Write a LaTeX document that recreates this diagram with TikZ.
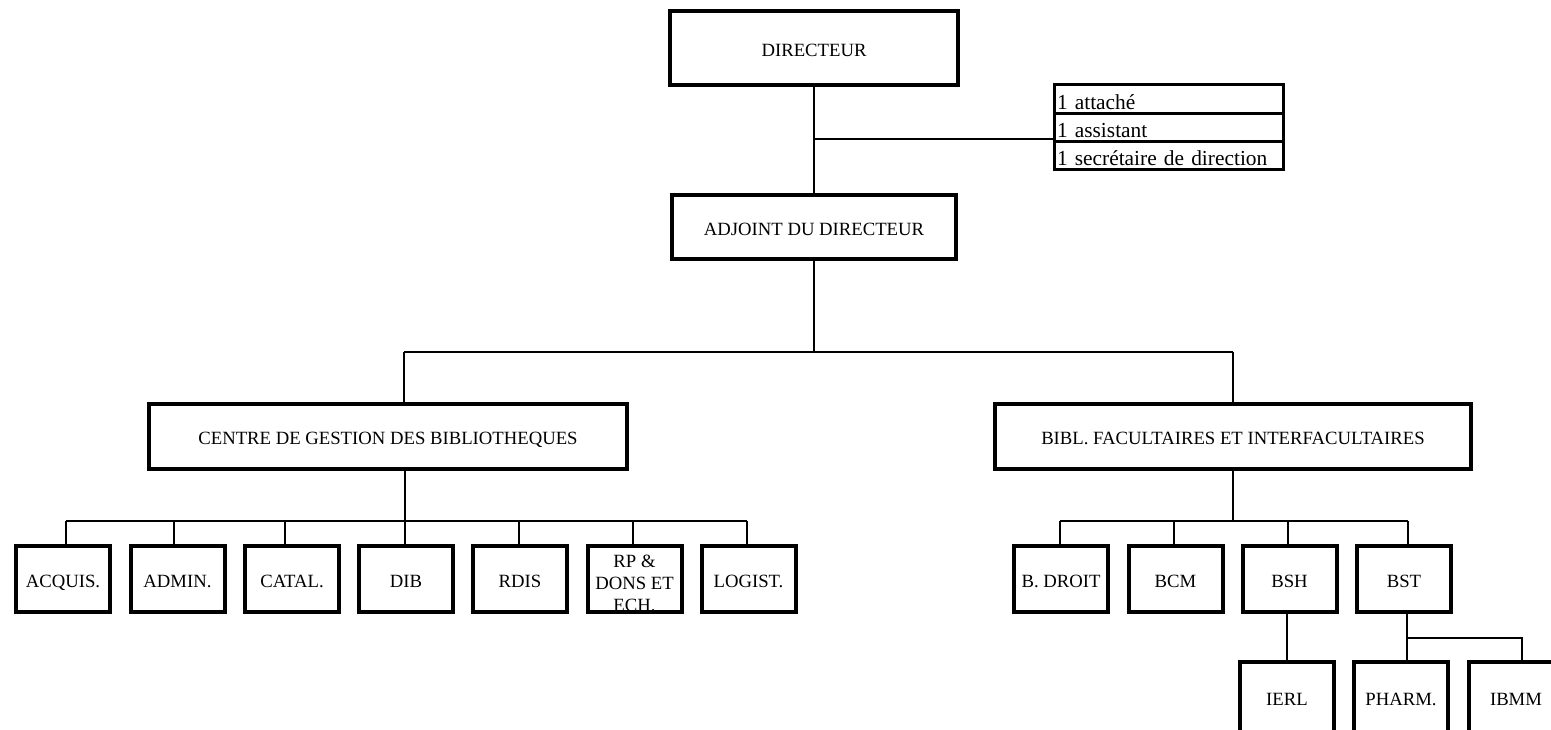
\documentclass[tikz,border=0pt]{standalone}
\usepackage{fontspec}
\setmainfont{Liberation Serif}
\begin{document}
\begin{tikzpicture}[x=0.5pt,y=-0.5pt,
  boxbase/.style={draw, line width=2pt, inner sep=0pt, minimum width=47pt, minimum height=33pt,
    font=\fontsize{9.35}{11}\selectfont},
  box/.style={boxbase, text height=8.2pt, text depth=0pt},
  lowbox/.style={box, minimum height=35pt},
  staffbox/.style={draw, line width=1.5pt, inner sep=0pt, minimum width=114.5pt, minimum height=14pt,
    text width=112pt, align=left, text height=10.8pt, text depth=0pt,
    font=\fontsize{10.7}{11}\selectfont},
  link/.style={line width=1pt},
  thinlink/.style={line width=0.65pt}]
\useasboundingbox (0,0) rectangle (1551,729);
\clip (0,0) rectangle (1551,729);

% main boxes
\node[box, minimum width=144pt, minimum height=37pt] (dir) at (814,48) {DIRECTEUR};
\node[box, minimum width=142pt, minimum height=32pt] (adj) at (814,227) {ADJOINT DU DIRECTEUR};
\node[box, minimum width=239pt, minimum height=32.5pt] (cgb) at (388,436.5) {CENTRE DE GESTION DES BIBLIOTHEQUES};
\node[box, minimum width=238pt, minimum height=32.5pt] (bfi) at (1233,436.5) {BIBL. FACULTAIRES ET INTERFACULTAIRES};

% staff
\node[staffbox, minimum height=14.5pt] (s1) at (1169,98.5) {1 attaché};
\node[staffbox] (s2) at (1169,127) {1 assistant};
\node[staffbox] (s3) at (1169,155) {1 secrétaire de direction};

% left services
\node[box] (acq) at (63,579) {ACQUIS.};
\node[box] (adm) at (177.5,579) {ADMIN.};
\node[box] (cat) at (292,579) {CATAL.};
\node[box] (dib) at (406,579) {DIB};
\node[box] (rdis) at (520,579) {RDIS};
\node[boxbase, text height=6pt, text depth=18pt] (rp) at (634.5,579)
  {\begin{tabular}[t]{@{}c@{}}RP \&\\DONS ET\\ECH.\end{tabular}};
\node[box] (log) at (748.5,579) {LOGIST.};

% right libraries
\node[box] (bdr) at (1061,579) {B. DROIT};
\node[box] (bcm) at (1175.5,579) {BCM};
\node[box] (bsh) at (1289.5,579) {BSH};
\node[box] (bst) at (1404,579) {BST};

\node[lowbox] (ierl) at (1287,697) {IERL};
\node[lowbox] (pha) at (1401,697) {PHARM.};
\node[lowbox] (ibmm) at (1516,697) {IBMM};

% connectors top
\draw[thinlink] (dir.south) -- (adj.north);
\coordinate (jstaff) at (814,139);
\draw[thinlink] (jstaff) -- (jstaff -| s2.west);

\coordinate (jtop) at (814,352);
\coordinate (jl) at (404,352);
\coordinate (jr) at (1233,352);
\draw[link] (adj.south) -- (jtop);
\draw[link] (jl) -- (jr);
\draw[link] (jl) -- (jl |- cgb.north);
\draw[link] (jr) -- (bfi.north);

% left tree
\coordinate (jc) at (405,521);
\draw[link] (jc |- cgb.south) -- (jc);
\coordinate (jcl) at (66,521);
\coordinate (jcr) at (747,521);
\draw[link] (jcl) -- (jcr);
\foreach \n/\x in {acq/66, adm/174, cat/285, dib/405, rdis/519, rp/633, log/747} {
  \coordinate (t) at (\x,521);
  \draw[link] (t) -- (t |- \n.north);
}

% right tree
\coordinate (jb) at (1233,521);
\draw[link] (bfi.south) -- (jb);
\coordinate (jbl) at (1060,521);
\coordinate (jbr) at (1408,521);
\draw[link] (jbl) -- (jbr);
\foreach \n/\x in {bdr/1060, bcm/1174, bsh/1288, bst/1408} {
  \coordinate (t) at (\x,521);
  \draw[link] (t) -- (t |- \n.north);
}

\draw[link] (ierl.north |- bsh.south) -- (ierl.north);
\coordinate (jbst) at (1407,638);
\coordinate (jib) at (1522,638);
\draw[link] (jbst |- bst.south) -- (jbst);
\draw[link] (jbst) -- (jib) -- (jib |- ibmm.north);
\draw[link] (jbst) -- (jbst |- pha.north);
\end{tikzpicture}
\end{document}
